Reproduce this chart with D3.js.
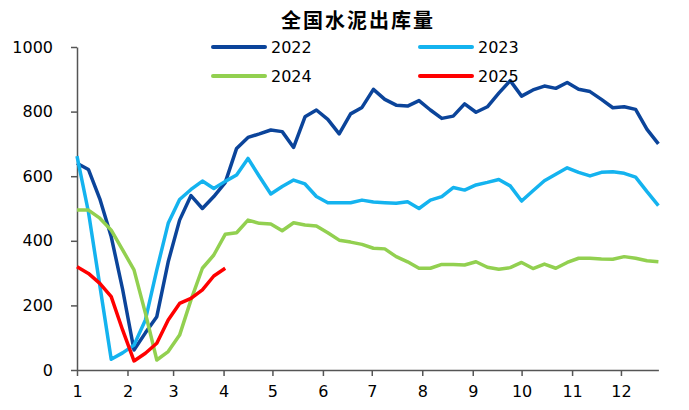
<!DOCTYPE html>
<html>
<head>
<meta charset="utf-8">
<script src="https://cdn.jsdelivr.net/npm/d3@7/dist/d3.min.js"></script>
<style>
  html, body { margin: 0; padding: 0; background: #fff; }
  svg { display: block; }
</style>
</head>
<body>
<svg id="chart" width="689" height="410"></svg>
<script>
const title = "全国水泥出库量";
const seriesNames = ["2022", "2023", "2024", "2025"];
const seriesColors = ["#0b449a", "#14b3ef", "#92d050", "#ff0000"];
const monthLabels = ["1","2","3","4","5","6","7","8","9","10","11","12"];
const monthStartDays = [1, 32, 60, 91, 121, 152, 182, 213, 244, 274, 305, 335];
const yTicks = [0, 200, 400, 600, 800, 1000];

const v2022 = [640, 621, 530, 413, 250, 62, 115, 165, 335, 464, 540, 500, 537, 580, 686, 720, 731, 743, 738, 689,
  784, 805, 776, 731, 793, 813, 869, 838, 820, 817, 834, 805, 779, 786, 824, 798, 815, 857, 896, 848,
  867, 879, 872, 890, 869, 862, 838, 812, 815, 807, 745, 700];
const v2023 = [662, 490, 262, 33, 53, 77, 155, 310, 454, 528, 559, 585, 562, 584, 604, 655, 599, 545, 568, 588,
  576, 537, 518, 518, 518, 526, 520, 518, 516, 521, 500, 526, 537, 565, 557, 573, 581, 590, 570, 523,
  555, 586, 606, 626, 612, 601, 612, 614, 609, 597, 552, 509];
const v2024 = [495, 495, 470, 433, 372, 310, 176, 31, 57, 108, 217, 315, 356, 420, 425, 464, 454, 452, 431, 456,
  449, 446, 425, 402, 396, 389, 377, 375, 351, 335, 315, 315, 327, 327, 325, 335, 318, 312, 317, 333,
  314, 328, 315, 333, 346, 346, 344, 343, 351, 346, 338, 335];
const v2025 = [320, 299, 268, 227, 124, 28, 52, 83, 155, 206, 222, 248, 291, 315];

const seriesValues = [v2022, v2023, v2024, v2025];

const svg = d3.select("#chart");
const pLeft = 77, pRight = 658.4, pTop = 47, pBottom = 370;
const font = "'DejaVu Sans', Verdana, sans-serif";

const x = d3.scaleLinear().domain([1, 358]).range([pLeft, pRight]);
const y = d3.scaleLinear().domain([0, 1000]).range([pBottom, pTop]);

// title
svg.append("text")
  .attr("x", 281).attr("y", 28)
  .attr("text-anchor", "start")
  .attr("font-family", "'Noto Sans CJK SC', sans-serif")
  .attr("font-weight", "bold")
  .attr("font-size", 20)
  .attr("letter-spacing", 2)
  .attr("fill", "#000")
  .text(title);

// y axis
const yAxis = d3.axisLeft(y).tickValues(yTicks).tickFormat(d3.format("d"))
  .tickSize(6).tickPadding(18).tickSizeOuter(0);
const gy = svg.append("g").attr("transform", `translate(${pLeft},0)`).call(yAxis);
gy.select(".domain").attr("stroke", "#555").attr("stroke-width", 1.5);
gy.selectAll(".tick line").attr("stroke", "#555").attr("stroke-width", 1.5);
gy.selectAll(".tick text").attr("font-family", font).attr("font-size", 16).attr("fill", "#000");

// x axis
const xAxis = d3.axisBottom(x).tickValues(monthStartDays)
  .tickFormat((d, i) => monthLabels[i]).tickSize(6).tickPadding(10).tickSizeOuter(0);
const gx = svg.append("g").attr("transform", `translate(0,${pBottom})`).call(xAxis);
gx.select(".domain").attr("stroke", "#555").attr("stroke-width", 1.5);
gx.selectAll(".tick line").attr("stroke", "#555").attr("stroke-width", 1.5);
gx.selectAll(".tick text").attr("font-family", font).attr("font-size", 16).attr("fill", "#000");

// lines
const line = d3.line()
  .x((d, i) => x(1 + 7 * i))
  .y(d => y(d));

seriesValues.forEach((vals, k) => {
  svg.append("path")
    .datum(vals)
    .attr("fill", "none")
    .attr("stroke", seriesColors[k])
    .attr("stroke-width", 3.5)
    .attr("stroke-linejoin", "round")
    .attr("d", line);
});

// legend
const legendPos = [[213, 47], [420, 47], [213, 76], [420, 76]];
seriesNames.forEach((name, k) => {
  const [lx, ly] = legendPos[k];
  svg.append("line")
    .attr("x1", lx).attr("x2", lx + 52)
    .attr("y1", ly).attr("y2", ly)
    .attr("stroke", seriesColors[k])
    .attr("stroke-width", 4)
    .attr("stroke-linecap", "round");
  svg.append("text")
    .attr("x", lx + 58).attr("y", ly)
    .attr("dy", "0.36em")
    .attr("font-family", font)
    .attr("font-size", 16)
    .attr("fill", "#000")
    .text(name);
});
</script>
</body>
</html>
